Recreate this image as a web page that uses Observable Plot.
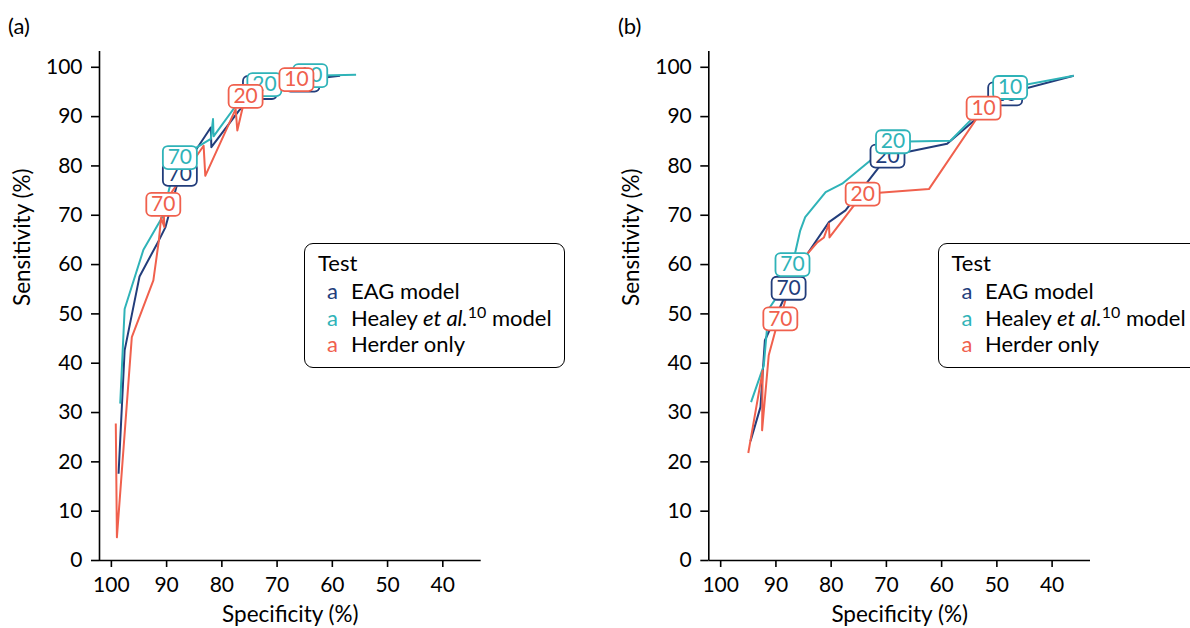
<!DOCTYPE html>
<html><head><meta charset="utf-8">
<script src="https://cdn.jsdelivr.net/npm/d3@7"></script>
<script src="https://cdn.jsdelivr.net/npm/@observablehq/plot@0.6"></script>
<style>
body{margin:0;background:#fff;font-family:Lato,sans-serif;color:#000;}
#wrap{position:relative;width:1190px;height:628px;overflow:hidden;background:#fff;}
.panel{position:absolute;top:0;}
.tag{position:absolute;font-size:22px;line-height:26px;white-space:nowrap;}
.box{position:absolute;border:1.5px solid #000;border-radius:9px;box-sizing:border-box;background:#fff;}
sup{font-size:16px;vertical-align:baseline;position:relative;top:-8px;}
</style></head>
<body><div id="wrap"></div>
<script>
// ---- data ----
const ticksX = [100, 90, 80, 70, 60, 50, 40];
const ticksY = [0, 10, 20, 30, 40, 50, 60, 70, 80, 90, 100];
const seriesNames = ["EAG model", "Healey et al. model", "Herder only"];
const seriesColors = ["#223d7b", "#2fb3b8", "#f0604d"];
const thresholds = ["70", "20", "10"];
const xTitle = "Specificity (%)", yTitle = "Sensitivity (%)";

// panel (a)
const aEagSpec = [98.7, 97.6, 94.9, 91.4, 90.2, 87.6, 82.0, 81.9, 76.9, 73.1, 65.4, 58.6];
const aEagSens = [17.6, 42.6, 57.6, 64.9, 67.6, 78.3, 87.8, 83.8, 91.2, 95.9, 97.4, 98.3];
const aHeaSpec = [98.4, 97.6, 94.2, 90.8, 89.3, 87.6, 82.0, 81.6, 81.5, 77.2, 72.3, 64.0, 55.7];
const aHeaSens = [31.8, 51.0, 63.0, 69.6, 76.4, 81.7, 85.5, 89.5, 86.0, 92.6, 96.5, 98.3, 98.5];
const aHerSpec = [99.2, 99.0, 96.3, 92.4, 91.4, 91.0, 90.4, 90.6, 83.3, 83.0, 77.5, 77.2, 76.2, 75.7, 66.5];
const aHerSens = [27.8, 4.7, 45.3, 56.8, 64.9, 69.5, 67.6, 72.2, 84.1, 78.0, 91.5, 87.2, 92.0, 94.1, 97.5];
const aLabEagSpec = [87.6, 73.1, 65.4], aLabEagSens = [78.3, 95.9, 97.4];
const aLabHeaSpec = [87.6, 72.3, 64.0], aLabHeaSens = [81.7, 96.5, 98.3];
const aLabHerSpec = [90.6, 75.7, 66.5], aLabHerSens = [72.2, 94.1, 97.5];

// panel (b)
const bEagSpec = [94.6, 92.8, 92.0, 87.7, 84.3, 80.4, 77.4, 69.8, 59.0, 48.5, 36.1];
const bEagSens = [24.2, 31.1, 44.6, 55.2, 62.2, 68.6, 71.0, 82.0, 84.5, 94.6, 98.3];
const bHeaSpec = [94.5, 92.2, 91.3, 90.1, 87.0, 85.6, 84.7, 81.0, 78.0, 68.8, 58.4, 54.2, 47.6, 36.1];
const bHeaSens = [32.1, 39.5, 51.0, 53.0, 60.0, 66.9, 69.6, 74.7, 76.4, 84.9, 85.1, 89.9, 95.9, 98.3];
const bHerSpec = [95.0, 92.4, 92.5, 91.3, 90.1, 89.2, 88.3, 84.3, 82.5, 81.3, 80.4, 80.3, 74.3, 62.3, 52.4];
const bHerSens = [21.8, 38.5, 26.4, 41.6, 46.6, 49.0, 52.7, 62.2, 64.5, 65.5, 68.3, 65.5, 74.3, 75.3, 91.7];
const bLabEagSpec = [87.7, 69.8, 48.5], bLabEagSens = [55.2, 82.0, 94.6];
const bLabHeaSpec = [87.0, 68.8, 47.6], bLabHeaSens = [60.0, 84.9, 95.9];
const bLabHerSpec = [89.2, 74.3, 52.4], bLabHerSens = [49.0, 74.3, 91.7];

// ---- helpers ----
const rows = (spec, sens) => spec.map((s, i) => ({spec: s, sens: sens[i]}));
const labRows = (spec, sens) => spec.map((s, i) => ({spec: s, sens: sens[i], t: thresholds[i]}));

const labelBox = {
  draw(ctx) {
    const w = 34, h = 23, r = 5, x0 = -w / 2, y0 = -h / 2, x1 = w / 2, y1 = h / 2;
    ctx.moveTo(x0 + r, y0);
    ctx.lineTo(x1 - r, y0); ctx.arcTo(x1, y0, x1, y0 + r, r);
    ctx.lineTo(x1, y1 - r); ctx.arcTo(x1, y1, x1 - r, y1, r);
    ctx.lineTo(x0 + r, y1); ctx.arcTo(x0, y1, x0, y1 - r, r);
    ctx.lineTo(x0, y0 + r); ctx.arcTo(x0, y0, x0 + r, y0, r);
    ctx.closePath();
  }
};

const X0 = 102.15, X1 = 33.05, Y1 = 103.2;

function panel(lines, labels, marginLeft, marginRight) {
  const marks = [
    Plot.axisX({ticks: ticksX, tickSize: 7, tickPadding: 10, strokeWidth: 1.6, label: null}),
    Plot.axisY({ticks: ticksY, tickSize: 8, tickPadding: 9, strokeWidth: 1.6, label: null}),
    Plot.text([xTitle], {frameAnchor: "bottom", lineAnchor: "middle", dy: 54.5, fontSize: 22.5, fill: "#000"}),
    Plot.text([yTitle], {frameAnchor: "left", lineAnchor: "middle", dx: -77, rotate: -90, fontSize: 22.5, fill: "#000"}),
    Plot.ruleX([X0], {stroke: "#000", strokeWidth: 1.6}),
    Plot.ruleY([0], {stroke: "#000", strokeWidth: 1.6})
  ];
  lines.forEach((d, i) => marks.push(Plot.line(d, {x: "spec", y: "sens", stroke: seriesColors[i], strokeWidth: 2, strokeLinecap: "butt"})));
  labels.forEach((d, i) => {
    marks.push(Plot.dot(d, {x: "spec", y: "sens", symbol: labelBox, fill: "white", stroke: seriesColors[i], strokeWidth: 1.8}));
    marks.push(Plot.text(d, {x: "spec", y: "sens", text: "t", fill: seriesColors[i], fontSize: 21}));
  });
  return Plot.plot({
    width: 595, height: 628, marginLeft, marginRight, marginTop: 51, marginBottom: 68,
    x: {domain: [X0, X1]},
    y: {domain: [0, Y1]},
    style: {fontFamily: "Lato", fontSize: "21px", color: "#000", background: "transparent"},
    marks
  });
}

const wrap = document.getElementById("wrap");
function addPanel(svg, left) {
  const d = document.createElement("div");
  d.className = "panel"; d.style.left = left + "px";
  d.appendChild(svg); wrap.appendChild(d);
}
addPanel(panel(
  [rows(aEagSpec, aEagSens), rows(aHeaSpec, aHeaSens), rows(aHerSpec, aHerSens)],
  [labRows(aLabEagSpec, aLabEagSens), labRows(aLabHeaSpec, aLabHeaSens), labRows(aLabHerSpec, aLabHerSens)],
  99, 114.3), 0);
addPanel(panel(
  [rows(bEagSpec, bEagSens), rows(bHeaSpec, bHeaSens), rows(bHerSpec, bHerSens)],
  [labRows(bLabEagSpec, bLabEagSens), labRows(bLabHeaSpec, bLabHeaSens), labRows(bLabHerSpec, bLabHerSens)],
  113.3, 100), 595);

function tag(html, left, baseline, color) {
  const d = document.createElement("div");
  d.className = "tag"; d.innerHTML = html;
  d.style.left = left + "px"; d.style.top = (baseline - 21.6) + "px";
  if (color) d.style.color = color;
  wrap.appendChild(d);
}
tag("(a)", 8, 35);
tag("(b)", 618, 35);

const legendLabels = ["EAG model", "Healey <i>et al.</i><sup>10</sup> model", "Herder only"];
function legend(boxLeft, titleLeft, keyLeft, textLeft) {
  const b = document.createElement("div");
  b.className = "box";
  Object.assign(b.style, {left: boxLeft + "px", top: "243px", width: "261px", height: "125px"});
  wrap.appendChild(b);
  tag("Test", titleLeft, 271.7);
  const bl = [300, 326.2, 352.4];
  legendLabels.forEach((t, i) => {
    tag("a", keyLeft, bl[i], seriesColors[i]);
    tag(t, textLeft, bl[i]);
  });
}
legend(304, 318, 327, 351);
legend(938, 951.5, 961.5, 985);
</script>
</body></html>
